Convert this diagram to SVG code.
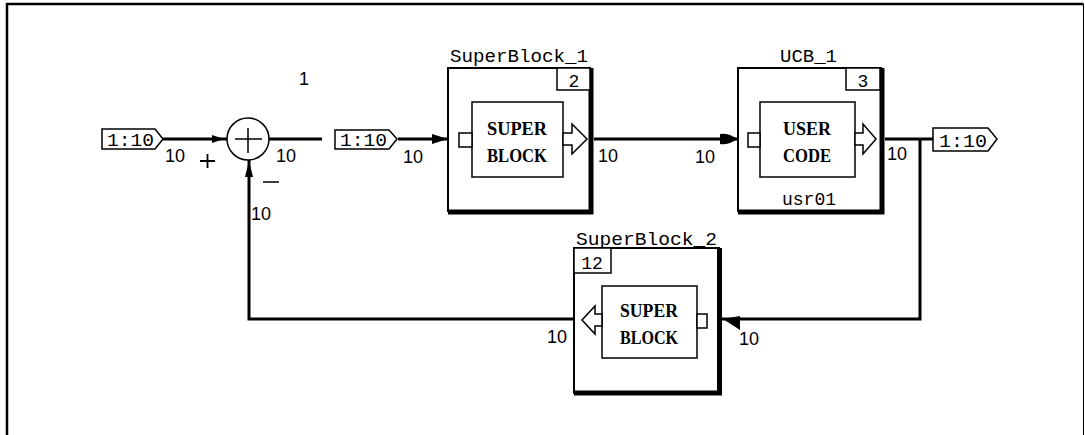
<svg xmlns="http://www.w3.org/2000/svg" width="1085" height="435" viewBox="0 0 1085 435">
<defs>
<style>
.bg{fill:#fff}
.frame{stroke:#000;fill:none}
.wire{stroke:#000;stroke-width:3;fill:none}
.box{fill:#fff;stroke:#000;stroke-width:2}
.shadow{stroke:#000;stroke-width:5;fill:none}
.thin{fill:#fff;stroke:#000;stroke-width:1.5}
.lbl{font-family:"Liberation Sans",Arial,sans-serif;font-size:18px;fill:#000}
.mono{font-family:"Liberation Mono","Courier New",monospace;font-size:18px;fill:#000}
.inner{font-family:"Liberation Serif","Times New Roman",serif;font-size:18px;font-weight:bold;fill:#000}
.head{fill:#000;stroke:none}
</style>
</defs>
<rect class="bg" x="0" y="0" width="1085" height="435"/>
<path class="frame" d="M7,435 V4 H1083.5" stroke-width="2.5"/>
<path class="frame" d="M1083.5,4 V435" stroke-width="1"/>

<g id="connectors">
<path class="wire" d="M163,139 H227"/>
<path class="wire" d="M269,139 H322"/>
<path class="wire" d="M398,139 H448"/>
<path class="wire" d="M594,139 H738"/>
<path class="wire" d="M885,139 H933"/>
<path class="wire" d="M920,139 V319 H722"/>
<path class="wire" d="M574,319 H249 V160"/>
<path class="head" d="M212,135 L224,139 L212,143 Z"/>
<path class="head" d="M432,134 L448,139 L432,144 Z"/>
<path class="head" d="M720,134 Q724,133 730,135 L738,139 L730,143 Q724,145 720,144 Z"/>
<path class="head" d="M740,316 L740,330 L723,319 Z"/>
<path class="head" d="M245,177 L249,161 L253,177 Z"/>
</g>

<g id="in1">
<polygon class="thin" points="102,129 155,129 163,139 155,149 102,149"/>
<text class="mono" x="107" y="146" textLength="47" lengthAdjust="spacingAndGlyphs">1:10</text>
<text class="lbl" x="165" y="162">10</text>
</g>

<g id="sum">
<circle cx="248" cy="139" r="21" fill="#fff" stroke="#000" stroke-width="1.5"/>
<path d="M235,139 H262 M248,128 V153" stroke="#000" stroke-width="1.5"/>
<path d="M200,161 H215 M207.5,154 V168" stroke="#000" stroke-width="1.8"/>
<path d="M263,182 H279" stroke="#000" stroke-width="1.5"/>
<text class="lbl" x="304" y="85" text-anchor="middle">1</text>
<text class="lbl" x="276" y="162">10</text>
<text class="lbl" x="251" y="220">10</text>
</g>

<g id="in2">
<polygon class="thin" points="335,130 389,130 397,139 389,149 335,149"/>
<text class="mono" x="340" y="146" textLength="47" lengthAdjust="spacingAndGlyphs">1:10</text>
<text class="lbl" x="403" y="163">10</text>
</g>

<g id="SuperBlock_1">
<text class="mono" x="450" y="62" textLength="138" lengthAdjust="spacingAndGlyphs">SuperBlock_1</text>
<rect class="box" x="448" y="68" width="142" height="143"/>
<path class="shadow" d="M591,68 V212 H448"/>
<rect class="thin" x="557" y="68" width="33" height="22"/>
<text class="mono" x="574" y="87" text-anchor="middle">2</text>
<rect class="thin" x="472" y="102" width="91" height="75"/>
<rect class="thin" x="459" y="133" width="13" height="14"/>
<polygon class="thin" points="563,133 572,133 572,124 587,139 572,154 572,145 563,145"/>
<text class="inner" x="487" y="135" textLength="60" lengthAdjust="spacingAndGlyphs">SUPER</text>
<text class="inner" x="487" y="162" textLength="60" lengthAdjust="spacingAndGlyphs">BLOCK</text>
<text class="lbl" x="598" y="162">10</text>
</g>

<g id="UCB_1">
<text class="lbl" x="695" y="163">10</text>
<text class="mono" x="780" y="62" textLength="57" lengthAdjust="spacingAndGlyphs">UCB_1</text>
<rect class="box" x="738" y="68" width="143" height="143"/>
<path class="shadow" d="M882,68 V212 H738"/>
<rect class="thin" x="846" y="68" width="34" height="22"/>
<text class="mono" x="863" y="87" text-anchor="middle">3</text>
<rect class="thin" x="760" y="102" width="95" height="75"/>
<rect class="thin" x="748" y="133" width="12" height="14"/>
<polygon class="thin" points="855,133 863,133 863,124 876,139 863,154 863,145 855,145"/>
<text class="inner" x="783" y="135" textLength="48" lengthAdjust="spacingAndGlyphs">USER</text>
<text class="inner" x="783" y="162" textLength="48" lengthAdjust="spacingAndGlyphs">CODE</text>
<text class="mono" x="809" y="205" text-anchor="middle">usr01</text>
<text class="lbl" x="887" y="160">10</text>
</g>

<g id="out1">
<polygon class="thin" points="933,128 988,128 997,139 988,151 933,151"/>
<text class="mono" x="939" y="147" textLength="48" lengthAdjust="spacingAndGlyphs">1:10</text>
</g>

<g id="SuperBlock_2">
<text class="mono" x="576" y="245" textLength="141" lengthAdjust="spacingAndGlyphs">SuperBlock_2</text>
<rect class="box" x="574" y="248" width="145" height="145"/>
<path class="shadow" d="M719.5,248 V393 H574" stroke-width="3"/>
<rect class="thin" x="574" y="248" width="37" height="25"/>
<text class="mono" x="592" y="269" text-anchor="middle">12</text>
<rect class="thin" x="602" y="286" width="95" height="72"/>
<rect class="thin" x="697" y="314" width="10" height="14"/>
<polygon class="thin" points="602,314 595,314 595,306 582,320 595,334 595,326 602,326"/>
<text class="inner" x="620" y="317" textLength="58" lengthAdjust="spacingAndGlyphs">SUPER</text>
<text class="inner" x="620" y="344" textLength="58" lengthAdjust="spacingAndGlyphs">BLOCK</text>
<text class="lbl" x="547" y="343">10</text>
<text class="lbl" x="739" y="345">10</text>
</g>
</svg>
